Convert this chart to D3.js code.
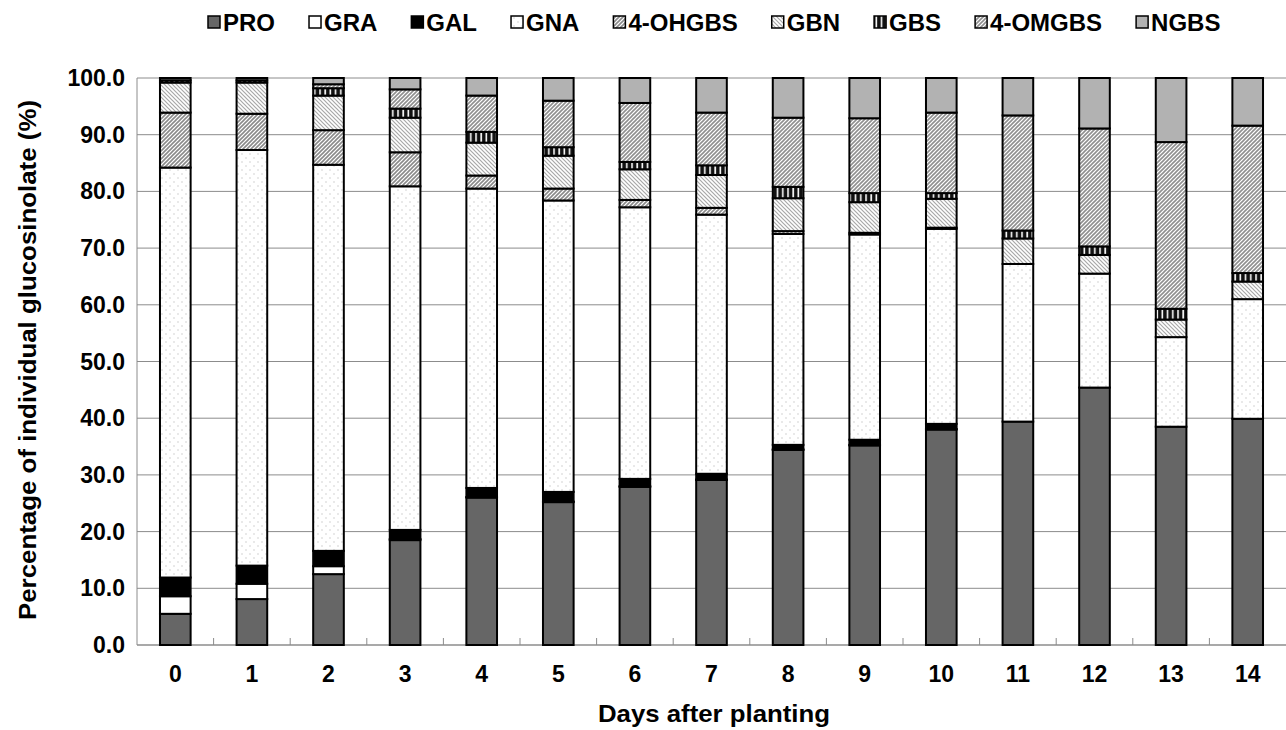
<!DOCTYPE html>
<html>
<head>
<meta charset="utf-8">
<title>Glucosinolate composition</title>
<script src="https://d3js.org/d3.v7.min.js"></script>
<style>
body { margin: 0; background: #fff; }
text { font-family: Arial, "Liberation Sans", sans-serif; font-weight: bold; fill: #000; }
.grid line { stroke: #8c8c8c; stroke-width: 1; }
.seg { stroke: #000; stroke-width: 2; }
</style>
</head>
<body>
<svg width="1286" height="730"></svg>
<script>

// ----- data (% of total glucosinolate) -----
var days = ["0", "1", "2", "3", "4", "5", "6", "7", "8", "9", "10", "11", "12", "13", "14"];
var keys = ["PRO", "GRA", "GAL", "GNA", "4-OHGBS", "GBN", "GBS", "4-OMGBS", "NGBS"];

var pro    = [5.5, 8.1, 12.5, 18.5, 26.0, 25.2, 27.9, 29.1, 34.4, 35.2, 38.0, 39.4, 45.4, 38.5, 39.9];
var gra    = [3.1, 2.7, 1.4, 0.2, 0.1, 0.1, 0.1, 0.1, 0.1, 0.1, 0.1, 0, 0, 0, 0];
var gal    = [3.3, 3.2, 2.7, 1.6, 1.6, 1.7, 1.3, 1.0, 0.8, 0.9, 0.9, 0, 0, 0, 0];
var gna    = [72.3, 73.3, 68.1, 60.6, 52.8, 51.4, 47.9, 45.7, 37.2, 36.2, 34.4, 27.8, 20.1, 15.8, 21.1];
var ohgbs  = [9.7, 6.4, 6.1, 6.0, 2.3, 2.1, 1.3, 1.2, 0.5, 0.3, 0.2, 0, 0, 0, 0];
var gbn    = [5.3, 5.5, 6.1, 6.1, 5.8, 5.8, 5.4, 5.8, 5.8, 5.4, 5.1, 4.5, 3.3, 3.1, 3.1];
var gbs    = [0.4, 0.4, 1.3, 1.6, 1.9, 1.5, 1.3, 1.7, 2.0, 1.6, 1.0, 1.4, 1.5, 1.9, 1.5];
var omgbs  = [0, 0, 0.7, 3.4, 6.4, 8.2, 10.4, 9.3, 12.2, 13.2, 14.2, 20.3, 20.8, 29.4, 26.0];
var ngbs   = [0.4, 0.4, 1.1, 2.0, 3.1, 4.0, 4.4, 6.1, 7.0, 7.1, 6.1, 6.6, 8.9, 11.3, 8.4];

var yTicks = [0, 10, 20, 30, 40, 50, 60, 70, 80, 90, 100];

var series = [pro, gra, gal, gna, ohgbs, gbn, gbs, omgbs, ngbs];
var rows = days.map(function(d, i) {
  var r = { day: d };
  keys.forEach(function(k, j) { r[k] = series[j][i]; });
  return r;
});

var svg = d3.select("svg");

// ----- fill patterns (grey scale, like the printed figure) -----
var defs = svg.append("defs");

var dots = defs.append("pattern").attr("id", "p-dots")
    .attr("patternUnits", "userSpaceOnUse").attr("width", 8).attr("height", 8);
dots.append("rect").attr("width", 8).attr("height", 8).attr("fill", "#fff");
dots.append("rect").attr("x", 1.5).attr("y", 1.5).attr("width", 1).attr("height", 1).attr("fill", "#aaa");
dots.append("rect").attr("x", 5.5).attr("y", 5.5).attr("width", 1).attr("height", 1).attr("fill", "#aaa");

function hatch(id, dir, color, width) {
  var p = defs.append("pattern").attr("id", id)
      .attr("patternUnits", "userSpaceOnUse").attr("width", 4).attr("height", 4);
  p.append("rect").attr("width", 4).attr("height", 4).attr("fill", "#fff");
  var path = dir > 0
    ? "M-1,1 l2,-2 M0,4 l4,-4 M3,5 l2,-2"
    : "M-1,3 l2,2 M0,0 l4,4 M3,-1 l2,2";
  p.append("path").attr("d", path).attr("stroke", color).attr("stroke-width", width);
}
hatch("p-fwd", 1, "#8a8a8a", 1.6);
hatch("p-fwd2", 1, "#8f8f8f", 1.6);
hatch("p-back", -1, "#a8a8a8", 1.2);

var vbar = defs.append("pattern").attr("id", "p-vbar")
    .attr("patternUnits", "userSpaceOnUse").attr("width", 5.2).attr("height", 5);
vbar.append("rect").attr("width", 5.2).attr("height", 5).attr("fill", "#111");
vbar.append("rect").attr("x", 2).attr("width", 1.6).attr("height", 5).attr("fill", "#fff");

var fills = {
  "PRO": "#666666",
  "GRA": "#ffffff",
  "GAL": "#000000",
  "GNA": "url(#p-dots)",
  "4-OHGBS": "url(#p-fwd)",
  "GBN": "url(#p-back)",
  "GBS": "url(#p-vbar)",
  "4-OMGBS": "url(#p-fwd2)",
  "NGBS": "#b2b2b2"
};

// ----- scales -----
var x = d3.scaleBand().domain(days).range([137, 1286]).paddingInner(0.6).paddingOuter(0.3);
var y = d3.scaleLinear().domain([0, 100]).range([645, 78]);

// gridlines
svg.append("g").attr("class", "grid")
  .selectAll("line")
  .data(yTicks.filter(function(t) { return t > 0; }))
  .enter().append("line")
    .attr("x1", 137).attr("x2", 1286)
    .attr("y1", function(d) { return y(d); })
    .attr("y2", function(d) { return y(d); });

// axes frame
svg.append("line").attr("x1", 137).attr("x2", 137).attr("y1", y(100)).attr("y2", y(0))
    .attr("stroke", "#8c8c8c").attr("stroke-width", 1);
svg.append("line").attr("x1", 137).attr("x2", 1286).attr("y1", y(0)).attr("y2", y(0))
    .attr("stroke", "#8c8c8c").attr("stroke-width", 1.5);

// tick marks between categories
svg.append("g")
  .selectAll("line")
  .data(days.slice(1))
  .enter().append("line")
    .attr("x1", function(d) { return x(d) - x.step() * x.paddingInner() / 2; })
    .attr("x2", function(d) { return x(d) - x.step() * x.paddingInner() / 2; })
    .attr("y1", y(0)).attr("y2", y(0) - 7)
    .attr("stroke", "#8c8c8c").attr("stroke-width", 1);

// ----- stacked bars -----
var stack = d3.stack().keys(keys)(rows);

svg.append("g")
  .selectAll("g")
  .data(stack)
  .enter().append("g")
    .attr("fill", function(d) { return fills[d.key]; })
  .selectAll("rect")
  .data(function(d) { return d.filter(function(s) { return s[1] - s[0] > 0; }); })
  .enter().append("rect")
    .attr("class", "seg")
    .attr("x", function(d) { return x(d.data.day); })
    .attr("width", x.bandwidth())
    .attr("y", function(d) { return y(d[1]); })
    .attr("height", function(d) { return y(d[0]) - y(d[1]); });

// ----- axis labels -----
svg.append("g")
  .selectAll("text")
  .data(yTicks)
  .enter().append("text")
    .attr("x", 125)
    .attr("y", function(d) { return y(d); })
    .attr("dy", "0.35em")
    .attr("text-anchor", "end")
    .style("font-size", "23px")
    .text(function(d) { return d.toFixed(1); });

svg.append("g")
  .selectAll("text")
  .data(days)
  .enter().append("text")
    .attr("x", function(d) { return x(d) + x.bandwidth() / 2; })
    .attr("y", 674)
    .attr("dy", "0.35em")
    .attr("text-anchor", "middle")
    .style("font-size", "23px")
    .text(function(d) { return d; });

svg.append("text")
    .attr("x", 598).attr("y", 722)
    .attr("textLength", 232)
    .attr("lengthAdjust", "spacingAndGlyphs")
    .style("font-size", "24px")
    .text("Days after planting");

svg.append("text")
    .attr("transform", "translate(36,620) rotate(-90)")
    .attr("textLength", 520)
    .attr("lengthAdjust", "spacingAndGlyphs")
    .style("font-size", "24px")
    .text("Percentage of individual glucosinolate (%)");

// ----- legend -----
var legend = svg.append("g");
var lx = 208;
keys.forEach(function(k) {
  legend.append("rect")
      .attr("x", lx).attr("y", 16).attr("width", 12).attr("height", 12)
      .attr("fill", fills[k]).attr("stroke", "#000").attr("stroke-width", 1.5);
  var t = legend.append("text")
      .attr("x", lx + 15).attr("y", 31)
      .style("font-size", "24px")
      .text(k);
  lx += 15 + t.node().getComputedTextLength() + 34;
});

</script>
</body>
</html>
